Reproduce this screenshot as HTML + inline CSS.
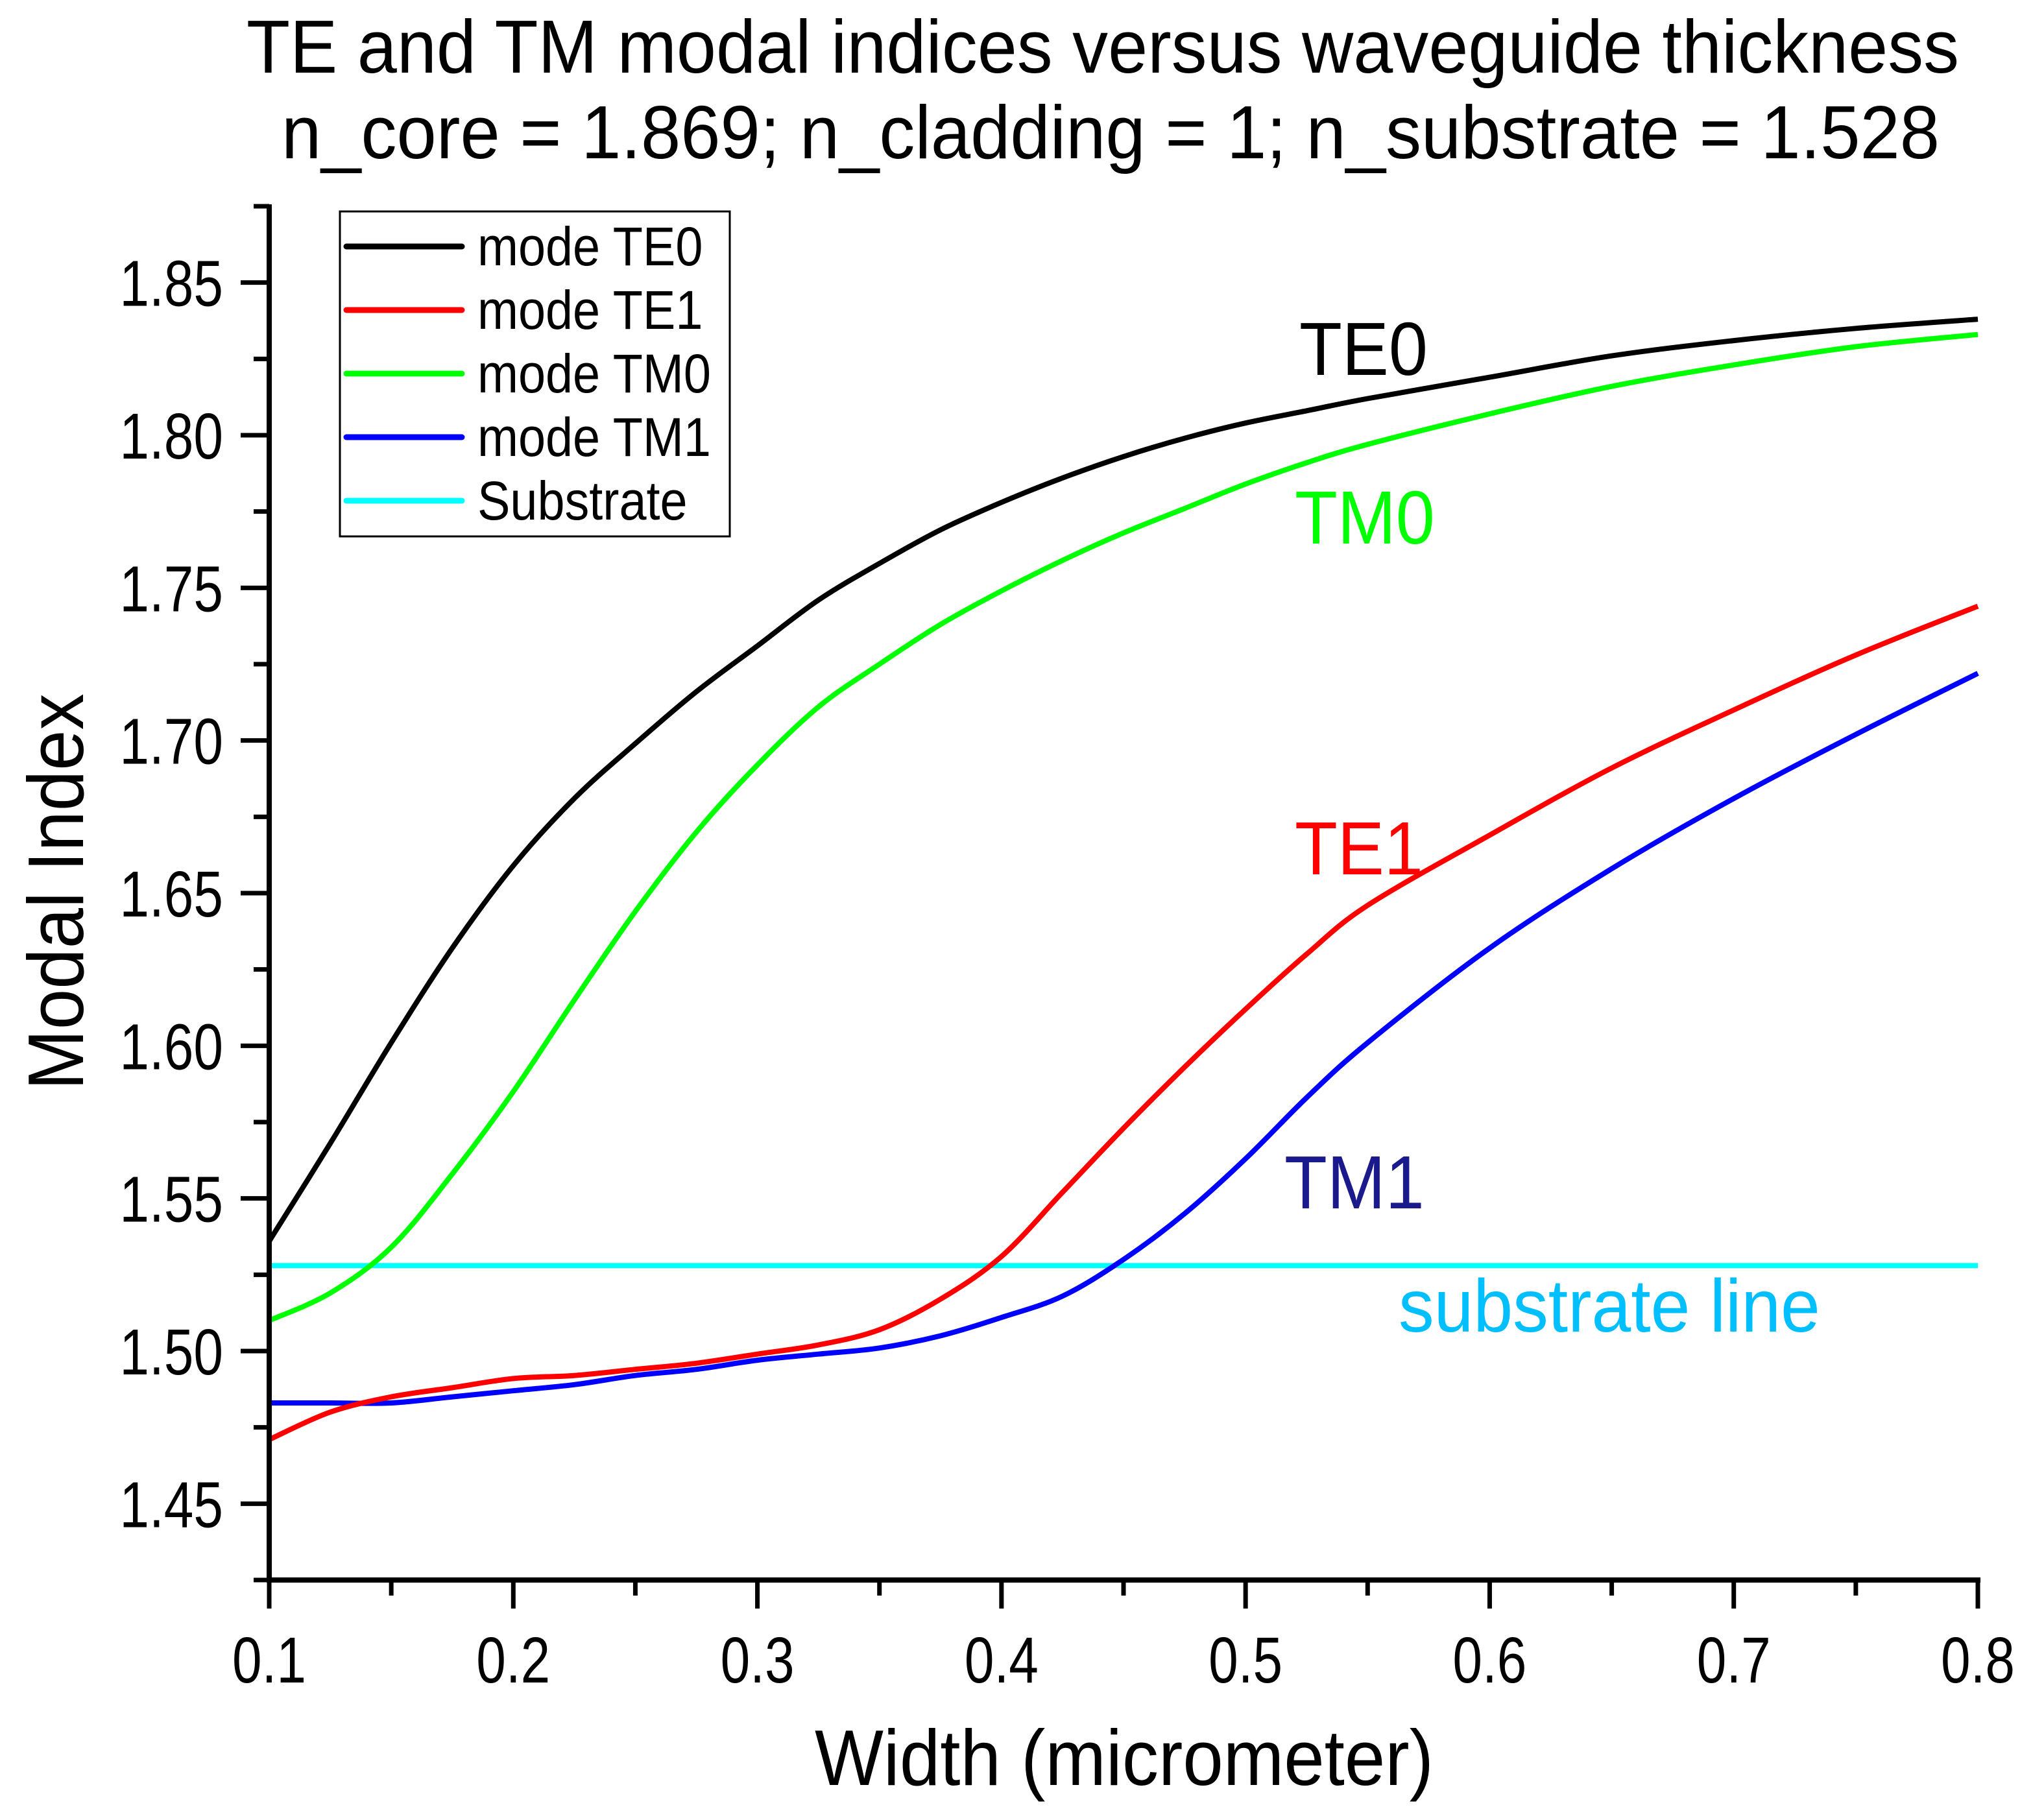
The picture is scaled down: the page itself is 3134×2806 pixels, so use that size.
<!DOCTYPE html>
<html><head><meta charset="utf-8"><style>html,body{margin:0;padding:0;background:#fff}svg{display:block}text{font-family:"Liberation Sans",Arial,sans-serif}</style></head>
<body>
<svg id="chart" width="3134" height="2806" viewBox="0 0 3134 2806" xmlns="http://www.w3.org/2000/svg">
<rect width="3134" height="2806" fill="#fff"/>
<text x="1700" y="112" font-size="116" text-anchor="middle" textLength="2640" lengthAdjust="spacingAndGlyphs">TE and TM modal indices versus waveguide thickness</text>
<text x="1712" y="244" font-size="116" text-anchor="middle" textLength="2556" lengthAdjust="spacingAndGlyphs">n_core = 1.869; n_cladding = 1; n_substrate = 1.528</text>
<g id="plot"></g>
<text transform="translate(1733,2752) scale(0.92,1)" font-size="122" text-anchor="middle">Width (micrometer)</text>
<text transform="translate(128,1375) rotate(-90) scale(0.92,1)" font-size="122" text-anchor="middle">Modal Index</text>
<text transform="translate(2003,578) scale(0.93,1)" font-size="116" fill="#000">TE0</text>
<text transform="translate(1996,838) scale(0.93,1)" font-size="116" fill="#00ff00">TM0</text>
<text transform="translate(1996,1348) scale(0.93,1)" font-size="116" fill="#ff0000">TE1</text>
<text transform="translate(1980,1863) scale(0.93,1)" font-size="116" fill="#1a1a8c">TM1</text>
<text transform="translate(2156,2053) scale(0.95,1)" font-size="115" fill="#00bfff">substrate line</text>
<g>
<rect x="524" y="326" width="601" height="501" fill="#fff" stroke="#000" stroke-width="3"/>
<g id="legend-items"></g>
</g>
</svg>
<script>
const xs = [0.1,0.125,0.15,0.175,0.2,0.225,0.25,0.275,0.3,0.325,0.35,0.375,0.4,0.425,0.45,0.475,0.5,0.525,0.55,0.6,0.65,0.7,0.75,0.8];
const te0 = [1.536,1.568,1.601,1.632,1.659,1.681,1.699,1.716,1.731,1.746,1.758,1.769,1.778,1.786,1.793,1.799,1.804,1.808,1.812,1.819,1.826,1.831,1.835,1.838];
const tm0 = [1.510,1.519,1.534,1.558,1.585,1.615,1.644,1.670,1.692,1.711,1.725,1.738,1.749,1.759,1.768,1.776,1.784,1.791,1.797,1.807,1.816,1.823,1.829,1.833];
const te1 = [1.471,1.480,1.485,1.488,1.491,1.492,1.494,1.496,1.499,1.502,1.507,1.517,1.531,1.552,1.573,1.593,1.612,1.630,1.646,1.669,1.691,1.710,1.728,1.744];
const tm1 = [1.483,1.483,1.483,1.485,1.487,1.489,1.492,1.494,1.497,1.499,1.501,1.505,1.511,1.518,1.530,1.545,1.563,1.583,1.601,1.632,1.658,1.681,1.702,1.722];
const substrate = 1.528;
const xTicks = ["0.1","0.2","0.3","0.4","0.5","0.6","0.7","0.8"];
const yTicks = ["1.45","1.50","1.55","1.60","1.65","1.70","1.75","1.80","1.85"];
const legendNames = ["mode TE0","mode TE1","mode TM0","mode TM1","Substrate"];

const NS="http://www.w3.org/2000/svg";
const X0=415,X1=3049,Y0=2436,Y1=318;
const xmin=0.1,xmax=0.8,ymin=1.425,ymax=1.875;
const sx=v=>X0+(v-xmin)/(xmax-xmin)*(X1-X0);
const sy=v=>Y0-(v-ymin)/(ymax-ymin)*(Y0-Y1);
const plot=document.getElementById('plot');
function mk(t,a,p){const e=document.createElementNS(NS,t);for(const k in a)e.setAttribute(k,a[k]);(p||plot).appendChild(e);return e;}

function series(vals,color,name){
  const P=xs.map((x,i)=>[sx(x),sy(vals[i])]);
  let d='M'+P[0][0].toFixed(1)+' '+P[0][1].toFixed(1);
  for(let i=0;i<P.length-1;i++){
    const p0=P[Math.max(0,i-1)],p1=P[i],p2=P[i+1],p3=P[Math.min(P.length-1,i+2)];
    const c1=[p1[0]+(p2[0]-p0[0])/6,p1[1]+(p2[1]-p0[1])/6];
    const c2=[p2[0]-(p3[0]-p1[0])/6,p2[1]-(p3[1]-p1[1])/6];
    d+=` C${c1[0].toFixed(1)} ${c1[1].toFixed(1)} ${c2[0].toFixed(1)} ${c2[1].toFixed(1)} ${p2[0].toFixed(1)} ${p2[1].toFixed(1)}`;
  }
  const p=mk('path',{d:d,fill:'none',stroke:color,'stroke-width':8,'stroke-linejoin':'round'});
  
  
}
const sub=mk('line',{x1:sx(xmin),x2:sx(xmax),y1:sy(substrate),y2:sy(substrate),stroke:'#00ffff','stroke-width':8});


series(tm1,'#0000ff','series-tm1');
series(te1,'#ff0000','series-te1');
series(tm0,'#00ff00','series-tm0');
series(te0,'#000000','series-te0');

const ax=mk('path',{d:`M${X0} ${Y1-3} L${X0} ${Y0} L${X1+4} ${Y0}`,fill:'none',stroke:'#000','stroke-width':8});


for(let v=0.1;v<=0.8001;v+=0.05){
  const major=Math.abs(Math.round(v*10)-v*10)<1e-6;
  const t=mk('line',{x1:sx(v),x2:sx(v),y1:Y0,y2:Y0+(major?44:24),stroke:'#000','stroke-width':7});
  
  
}
xTicks.forEach(s=>{
  const t=mk('text',{transform:`translate(${sx(parseFloat(s))},${Y0+158}) scale(0.82,1)`,'font-size':100,'text-anchor':'middle'});
  t.textContent=s;
  
  
});
for(let k=0;k<=18;k++){
  const v=1.425+k*0.025;
  const major=k%2===1;
  const t=mk('line',{x1:X0,x2:X0-(major?44:24),y1:sy(v),y2:sy(v),stroke:'#000','stroke-width':7});
  
  
}
yTicks.forEach(s=>{
  const t=mk('text',{transform:`translate(344,${sy(parseFloat(s))+36}) scale(0.82,1)`,'font-size':100,'text-anchor':'end'});
  t.textContent=s;
  
  
});
const lg=document.getElementById('legend-items');
const lcol=['#000000','#ff0000','#00ff00','#0000ff','#00ffff'];
legendNames.forEach((n,i)=>{
  const y=380+i*98;
  const l=mk('line',{x1:534,x2:712,y1:y,y2:y,stroke:lcol[i],'stroke-width':9,'stroke-linecap':'round'},lg);
  
  
  const t=mk('text',{transform:`translate(736,${y+29}) scale(0.9,1)`,'font-size':84},lg);
  t.textContent=n;
  
  
});
</script>
</body></html>
